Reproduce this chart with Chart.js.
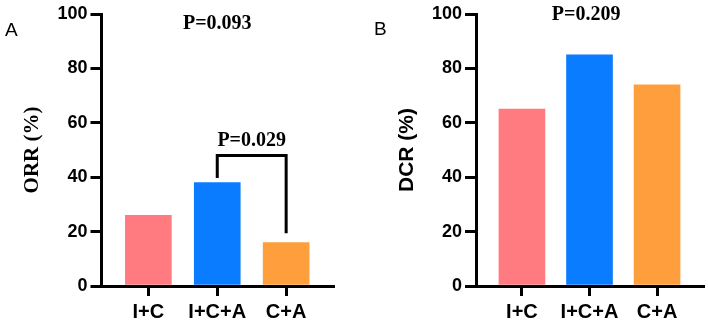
<!DOCTYPE html>
<html>
<head>
<meta charset="utf-8">
<script src="https://cdn.jsdelivr.net/npm/chart.js@4/dist/chart.umd.min.js"></script>
<style>
  html, body { margin: 0; padding: 0; background: #fff; }
  .row { display: flex; width: 708px; height: 323px; }
  .panel { position: relative; width: 354px; height: 323px; }
  .tag { position: absolute; font: 19px "Liberation Sans", Arial, sans-serif; color: #000; line-height: 19px; }
</style>
</head>
<body>
<div class="row">
  <div class="panel">
    <div class="tag" style="left:5px; top:20px;">A</div>
    <canvas id="orrChart" width="354" height="323"></canvas>
  </div>
  <div class="panel">
    <div class="tag" style="left:20px; top:19px;">B</div>
    <canvas id="dcrChart" width="354" height="323"></canvas>
  </div>
</div>
<script>
// data
const categories = ['I+C', 'I+C+A', 'C+A'];
const orrValues = [26, 38, 16];
const dcrValues = [65, 85, 74];
const yTickStep = 20;
const yMax = 100;

// p-value annotations (x = group index, y = value on the % axis)
const orrOverallP = { text: 'P=0.093', x: 1, y: 94.5 };
const orrPairP = { text: 'P=0.029', from: 1, to: 2, top: 48, fromEnd: 39.7, toEnd: 19.4, labelY: 51.4 };
const dcrOverallP = { text: 'P=0.209', x: 0.95, y: 97.8 };

const barColors = ['#ff7b7f', '#0a7cff', '#ff9e3d'];

const pAnnot = {
  id: 'pAnnot',
  afterDraw(chart, args, opts) {
    const ctx = chart.ctx;
    const xs = chart.scales.x, ys = chart.scales.y;
    ctx.save();
    ctx.fillStyle = '#000';
    ctx.strokeStyle = '#000';
    ctx.font = 'bold 20px "Liberation Serif", "Times New Roman", serif';
    ctx.textAlign = 'center';
    ctx.textBaseline = 'alphabetic';
    (opts.texts || []).forEach(t => {
      ctx.fillText(t.text, xs.getPixelForValue(t.x), ys.getPixelForValue(t.y));
    });
    (opts.brackets || []).forEach(b => {
      const x1 = xs.getPixelForValue(b.from), x2 = xs.getPixelForValue(b.to);
      ctx.lineWidth = 3;
      ctx.lineJoin = 'miter';
      ctx.beginPath();
      ctx.moveTo(x1, ys.getPixelForValue(b.fromEnd));
      ctx.lineTo(x1, ys.getPixelForValue(b.top));
      ctx.lineTo(x2, ys.getPixelForValue(b.top));
      ctx.lineTo(x2, ys.getPixelForValue(b.toEnd));
      ctx.stroke();
      ctx.fillText(b.text, xs.getPixelForValue((b.from + b.to) / 2), ys.getPixelForValue(b.labelY));
    });
    ctx.restore();
  }
};

function makeChart(id, values, cfg) {
  return new Chart(document.getElementById(id), {
    type: 'bar',
    data: {
      datasets: [{
        data: values.map((v, i) => ({ x: i, y: v })),
        backgroundColor: barColors,
        borderWidth: 0,
        barThickness: 46
      }]
    },
    options: {
      responsive: false,
      animation: false,
      layout: { padding: { top: 14, right: cfg.padRight, left: 0, bottom: 0 } },
      plugins: {
        legend: { display: false },
        tooltip: { enabled: false },
        pAnnot: { texts: cfg.texts, brackets: cfg.brackets }
      },
      scales: {
        x: {
          type: 'linear',
          min: -0.68,
          max: 2.68,
          offset: false,
          z: 1,
          afterBuildTicks: s => { s.ticks = categories.map((c, i) => ({ value: i })); },
          afterFit: s => { s.height = 37; },
          ticks: {
            includeBounds: false,
            padding: 4,
            color: '#000',
            font: { family: '"Liberation Sans", Arial, sans-serif', size: 20, weight: 'bold' },
            callback: v => categories[v] ?? ''
          },
          grid: { offset: false, drawOnChartArea: false, drawTicks: true, tickLength: 10, lineWidth: 3, color: '#000' },
          border: { display: true, color: '#000', width: 3 }
        },
        y: {
          min: 0,
          max: yMax,
          z: 1,
          afterFit: s => { s.width = cfg.axisWidth; },
          ticks: {
            stepSize: yTickStep,
            padding: 3,
            color: '#000',
            font: { family: '"Liberation Sans", Arial, sans-serif', size: 18, weight: 'bold' }
          },
          grid: { drawOnChartArea: false, drawTicks: true, tickLength: 11, lineWidth: 3, color: '#000' },
          border: { display: true, color: '#000', width: 3 },
          title: {
            display: true,
            text: cfg.title,
            color: '#000',
            font: cfg.titleFont,
            padding: { top: cfg.titlePad, bottom: 0 }
          }
        }
      }
    },
    plugins: [pAnnot]
  });
}

makeChart('orrChart', orrValues, {
  title: 'ORR (%)',
  titleFont: { family: '"Liberation Serif", "Times New Roman", serif', size: 21, weight: 'bold' },
  titlePad: 20,
  axisWidth: 101.5,
  padRight: 21,
  texts: [orrOverallP],
  brackets: [orrPairP]
});

makeChart('dcrChart', dcrValues, {
  title: 'DCR (%)',
  titleFont: { family: '"Liberation Sans", Arial, sans-serif', size: 21, weight: 'bold' },
  titlePad: 41,
  axisWidth: 122,
  padRight: 5,
  texts: [dcrOverallP],
  brackets: []
});
</script>
</body>
</html>
